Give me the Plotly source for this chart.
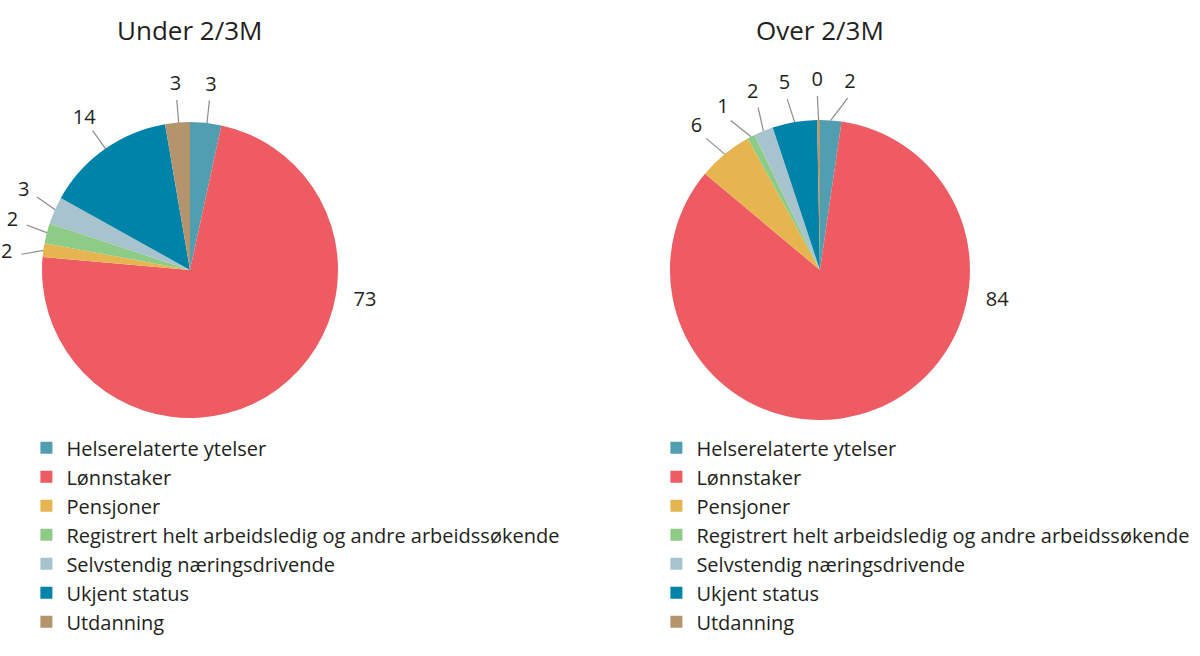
import plotly.graph_objects as go

categories = [
    "Helserelaterte ytelser",
    "Lønnstaker",
    "Pensjoner",
    "Registrert helt arbeidsledig og andre arbeidssøkende",
    "Selvstendig næringsdrivende",
    "Ukjent status",
    "Utdanning",
]
under_values = [3.4, 73.0, 1.5, 2.2, 3.0, 14.2, 2.7]
over_values = [2.3, 83.8, 5.9, 0.8, 2.1, 4.8, 0.3]
titles = ["Under 2/3M", "Over 2/3M"]

colors = ["#519EB0", "#EF5B62", "#E7B54F", "#8DCB86", "#A6C3CE", "#0083A9", "#B3946C"]
font = "Open Sans"
ink = "#231F20"

domains = [
    dict(x=[0.035, 0.2817], y=[0.3628, 0.814]),
    dict(x=[0.5583, 0.8083], y=[0.3598, 0.8171]),
]
R_MAX = 1.3    # polar overlay reaches past the pie edge so labels sit outside
R_LABEL = 1.26
R_BIG = 1.2
BIG_ANGLE = 100  # the dominant slice is labelled just below 3 o'clock
MIN_GAP = 10     # degrees between neighbouring small labels


def grow(d, f):
    out = {}
    for k, (a, b) in d.items():
        c, h = (a + b) / 2, (b - a) / 2 * f
        out[k] = [max(0, c - h), min(1, c + h)]
    return out


def slice_angles(values):
    total = sum(values)
    mids, acc = [], 0.0
    for v in values:
        mids.append((acc + v / 2) / total * 360)
        acc += v
    return mids


def spread(angles, min_gap):
    # push neighbouring labels apart so they don't collide
    a = [x - 360 if x > 180 else x for x in angles]
    order = sorted(range(len(a)), key=lambda k: a[k])
    for _ in range(200):
        for j in range(len(order) - 1):
            p, q = order[j], order[j + 1]
            gap = a[q] - a[p]
            if gap < min_gap:
                push = (min_gap - gap) / 2
                a[p] -= push
                a[q] += push
    return a


fig = go.Figure()
for i, (values, legend_name) in enumerate([(under_values, "legend"), (over_values, "legend2")]):
    # separate legends need distinct label ids, so the second pie gets an invisible suffix
    labels = categories if i == 0 else [c + "\u200b" for c in categories]
    fig.add_trace(go.Pie(
        labels=labels, values=values, sort=False, direction="clockwise",
        rotation=0, marker=dict(colors=colors), textinfo="none",
        domain=domains[i], legend=legend_name, hoverinfo="label+value",
    ))

    polar = "polar" if i == 0 else "polar2"
    mids = slice_angles(values)
    total = sum(values)
    small = [k for k, v in enumerate(values) if v < total / 2]
    spread_small = spread([mids[k] for k in small], MIN_GAP)

    text_r, text_t = [], []
    line_r, line_t = [], []
    for k, v in enumerate(values):
        if k in small:
            t = spread_small[small.index(k)]
            text_r.append(R_LABEL)
            text_t.append(t)
            line_r += [1.0, R_LABEL - 0.1, None]
            line_t += [mids[k], t, None]
        else:
            text_r.append(R_BIG)
            text_t.append(BIG_ANGLE)

    fig.add_trace(go.Scatterpolar(
        r=line_r, theta=line_t, mode="lines", subplot=polar,
        line=dict(color="#8C8C8C", width=1.2), showlegend=False,
        hoverinfo="skip", cliponaxis=False,
    ))
    fig.add_trace(go.Scatterpolar(
        r=text_r, theta=text_t, mode="text", subplot=polar,
        text=[f"{v:.0f}" for v in values],
        textfont=dict(size=20, family=font, color=ink),
        showlegend=False, hoverinfo="skip", cliponaxis=False,
    ))

polar_style = dict(
    bgcolor="rgba(0,0,0,0)",
    radialaxis=dict(range=[0, R_MAX], visible=False),
    angularaxis=dict(rotation=90, direction="clockwise", visible=False),
)

legend_style = dict(font=dict(size=20, family=font, color=ink), bgcolor="rgba(0,0,0,0)",
                    xanchor="left", yanchor="top", itemclick=False, tracegroupgap=0)
fig.update_layout(
    width=1200, height=656,
    margin=dict(l=0, r=0, t=0, b=0),
    paper_bgcolor="white",
    showlegend=True,
    polar=dict(domain=grow(domains[0], R_MAX), **polar_style),
    polar2=dict(domain=grow(domains[1], R_MAX), **polar_style),
    legend=dict(x=0.022, y=0.347, **legend_style),
    legend2=dict(x=0.547, y=0.347, **legend_style),
    annotations=[
        dict(text=titles[0], x=0.158, y=0.954, xref="paper", yref="paper",
             xanchor="center", yanchor="middle", showarrow=False,
             font=dict(size=26, family=font, color=ink)),
        dict(text=titles[1], x=0.683, y=0.954, xref="paper", yref="paper",
             xanchor="center", yanchor="middle", showarrow=False,
             font=dict(size=26, family=font, color=ink)),
    ],
)

fig.write_html("out.html", config={"displayModeBar": False},
               post_script="document.body.style.margin='0';")
